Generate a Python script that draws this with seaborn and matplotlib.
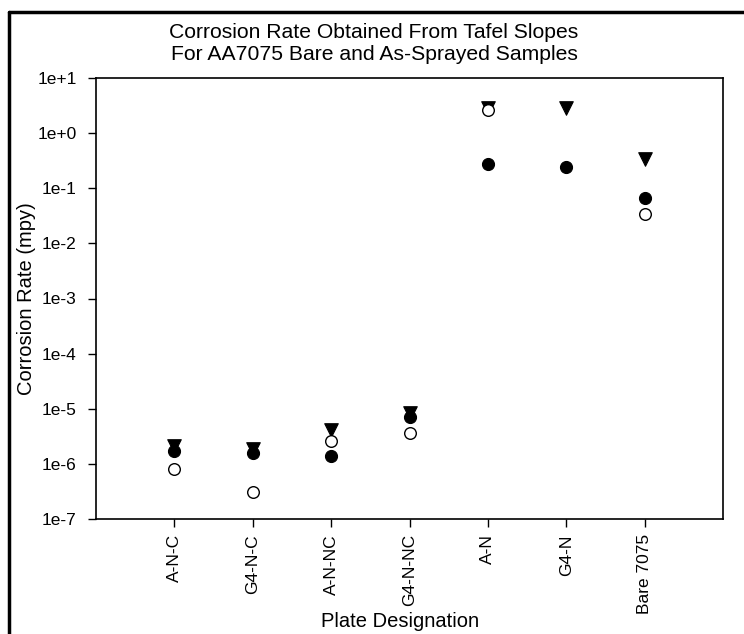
import matplotlib
matplotlib.use("Agg")
import matplotlib.pyplot as plt
import seaborn as sns
import pandas as pd
from matplotlib.lines import Line2D

sns.set_theme(style="white")
plt.rcParams['font.family'] = ['Liberation Sans', 'DejaVu Sans']

categories = ["A-N-C", "G4-N-C", "A-N-NC", "G4-N-NC", "A-N", "G4-N", "Bare 7075"]
series_tri = [2.1e-6, 1.9e-6, 4.2e-6, 8.3e-6, 2.9, 2.9, 0.34]
series_filled = [1.7e-6, 1.55e-6, 1.4e-6, 7.2e-6, 0.27, 0.245, 0.067]
series_open = [8.2e-7, 3.1e-7, 2.6e-6, 3.6e-6, 2.6, None, 0.034]
ytick_labels = ["1e-7", "1e-6", "1e-5", "1e-4", "1e-3", "1e-2", "1e-1", "1e+0", "1e+1"]

pos = list(range(1, len(categories) + 1))
df_tri = pd.DataFrame({"x": pos, "y": series_tri})
df_filled = pd.DataFrame({"x": pos, "y": series_filled})
df_open = pd.DataFrame({"x": pos, "y": series_open}).dropna()

fig = plt.figure(figsize=(7.44, 6.34), dpi=100)
ax = fig.add_axes([96/744, 1-519/634, (723-96)/744, (519-78)/634])

sns.scatterplot(data=df_tri, x="x", y="y", ax=ax, marker="v", s=95,
                color="black", edgecolor="black", linewidth=0.8, zorder=3)
sns.scatterplot(data=df_filled, x="x", y="y", ax=ax, marker="o", s=75,
                color="black", edgecolor="black", linewidth=0.8, zorder=4)
sns.scatterplot(data=df_open, x="x", y="y", ax=ax, marker="o", s=70,
                facecolor="white", edgecolor="black", linewidth=1.0, zorder=5)

ax.set_yscale("log")
ax.set_ylim(1e-7, 1e1)
ax.set_xlim(0, 8)
ax.set_yticks([10.0**k for k in range(-7, 2)])
ax.set_yticklabels(ytick_labels)
ax.minorticks_off()
ax.set_xticks(pos)
ax.set_xticklabels(categories, rotation=90)
ax.tick_params(axis="both", direction="out", length=6, width=1, colors="black",
               labelsize=12.5, bottom=True, left=True, top=False, right=False)
ax.tick_params(axis="y", pad=8)
ax.tick_params(axis="x", pad=5)
for sp in ax.spines.values():
    sp.set_color("black")
    sp.set_linewidth(1.2)

ax.set_xlabel("Plate Designation", fontsize=14.5, color="black")
ax.xaxis.set_label_coords((400 - 96) / 627, -(612 - 519) / 441)
ax.set_ylabel("Corrosion Rate (mpy)", fontsize=14.5, color="black", labelpad=0.5)
fig.text(374/744, 1-44/634, "Corrosion Rate Obtained From Tafel Slopes\nFor AA7075 Bare and As-Sprayed Samples",
         ha="center", va="center", fontsize=15.2, color="black", linespacing=1.2)

# outer frame (left and top edges)
fig.add_artist(Line2D([9/744, 9/744], [0, 1-12/634], transform=fig.transFigure, color="black", linewidth=2.5))
fig.add_artist(Line2D([9/744, 1], [1-12/634, 1-12/634], transform=fig.transFigure, color="black", linewidth=2.5))

fig.savefig("out.png", dpi=100)
